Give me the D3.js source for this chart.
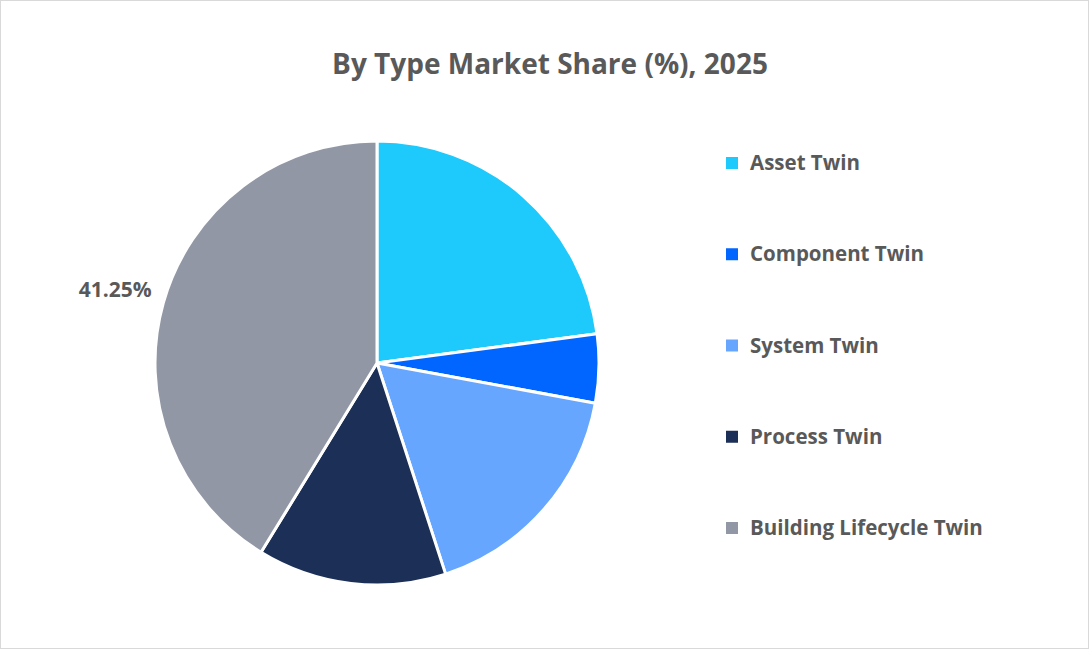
<!DOCTYPE html>
<html>
<head>
<meta charset="utf-8">
<script src="https://cdn.jsdelivr.net/npm/d3@7"></script>
<style>
  body { margin: 0; background: #fff; }
  text { font-family: "Open Sans", Lato, sans-serif; font-weight: bold; fill: #595959; }
</style>
</head>
<body>
<script>
// chart data
var categories = ["Asset Twin", "Component Twin", "System Twin", "Process Twin", "Building Lifecycle Twin"];
var shares = [22.9, 5.0, 17.1, 13.75, 41.25];
var colors = ["#1ec9fc", "#0066ff", "#66a6ff", "#1c2f56", "#9197a4"];
var labelled = ["Building Lifecycle Twin"];   // only slice that shows its value

var w = 1090, h = 650;
var cx = 377, cy = 363, r = 222;

var svg = d3.select("body").append("svg")
    .attr("width", w)
    .attr("height", h);

svg.append("rect")  // frame around chart
    .attr("x", 0.5).attr("y", 0.5)
    .attr("width", w - 2).attr("height", h - 2)
    .style("fill", "#fff")
    .style("stroke", "#d9d9d9");

svg.append("text")
    .attr("x", 550)
    .attr("y", 74)
    .attr("text-anchor", "middle")
    .style("font-size", "28px")
    .text("By Type Market Share (%), 2025");

var data = categories.map(function(c, i){
    return { name: c, value: shares[i], color: colors[i] };
});

var pie = d3.pie()
    .sort(null)
    .value(function(d){ return d.value; });

var arc = d3.arc().innerRadius(0).outerRadius(r);
var labelArc = d3.arc().innerRadius(272).outerRadius(272);

var g = svg.append("g")
    .attr("transform", "translate(" + cx + "," + cy + ")");

g.selectAll(".slice")
    .data(pie(data))
    .enter()
    .append("path")
    .attr("class", "slice")
    .attr("d", arc)
    .style("fill", function(d){ return d.data.color; })
    .style("stroke", "#fff")
    .style("stroke-width", 3)
    .style("stroke-linejoin", "round");

g.selectAll(".val")
    .data(pie(data).filter(function(d){ return labelled.indexOf(d.data.name) >= 0; }))
    .enter()
    .append("text")
    .attr("class", "val")
    .attr("transform", function(d){ return "translate(" + labelArc.centroid(d) + ")"; })
    .attr("text-anchor", "middle")
    .attr("dy", "0.35em")
    .style("font-size", "21px")
    .text(function(d){ return d.data.value.toFixed(2) + "%"; });

// legend
var ly = d3.scalePoint()
    .domain(categories)
    .range([163, 528]);

var legend = svg.selectAll(".legend")
    .data(data)
    .enter()
    .append("g")
    .attr("class", "legend")
    .attr("transform", function(d){ return "translate(726," + ly(d.name) + ")"; });

legend.append("rect")
    .attr("x", 0).attr("y", -6)
    .attr("width", 12).attr("height", 12)
    .style("fill", function(d){ return d.color; });

legend.append("text")
    .attr("x", 24)
    .attr("dy", "0.35em")
    .style("font-size", "20.5px")
    .text(function(d){ return d.name; });
</script>
</body>
</html>
